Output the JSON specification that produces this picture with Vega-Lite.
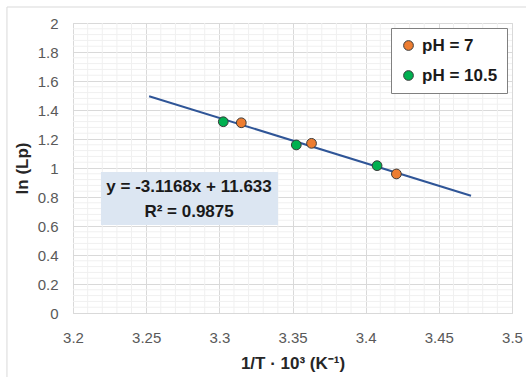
{
  "$schema": "https://vega.github.io/schema/vega-lite/v6.json",
  "width": 439,
  "height": 290,
  "autosize": "none",
  "padding": {"left": 73, "top": 23, "right": 14, "bottom": 64},
  "background": "white",
  "config": {
    "view": {"stroke": "#d9d9d9", "strokeWidth": 1},
    "font": "Liberation Sans Narrow, Liberation Sans, Arial",
    "axis": {"labelOverlap": false}
  },
  "datasets": {
    "points": [
      {"x": 3.315, "y": 1.312, "series": "pH = 7"},
      {"x": 3.363, "y": 1.170, "series": "pH = 7"},
      {"x": 3.421, "y": 0.959, "series": "pH = 7"},
      {"x": 3.3027, "y": 1.319, "series": "pH = 10.5"},
      {"x": 3.3526, "y": 1.159, "series": "pH = 10.5"},
      {"x": 3.4078, "y": 1.016, "series": "pH = 10.5"}
    ],
    "trend": [
      {"x": 3.252, "y": 1.4947},
      {"x": 3.472, "y": 0.8090}
    ],
    "minorX": [
      {"g": 3.21},{"g": 3.22},{"g": 3.23},{"g": 3.24},
      {"g": 3.26},{"g": 3.27},{"g": 3.28},{"g": 3.29},
      {"g": 3.31},{"g": 3.32},{"g": 3.33},{"g": 3.34},
      {"g": 3.36},{"g": 3.37},{"g": 3.38},{"g": 3.39},
      {"g": 3.41},{"g": 3.42},{"g": 3.43},{"g": 3.44},
      {"g": 3.46},{"g": 3.47},{"g": 3.48},{"g": 3.49}
    ],
    "minorY": [
      {"g": 0.04},{"g": 0.08},{"g": 0.12},{"g": 0.16},
      {"g": 0.24},{"g": 0.28},{"g": 0.32},{"g": 0.36},
      {"g": 0.44},{"g": 0.48},{"g": 0.52},{"g": 0.56},
      {"g": 0.64},{"g": 0.68},{"g": 0.72},{"g": 0.76},
      {"g": 0.84},{"g": 0.88},{"g": 0.92},{"g": 0.96},
      {"g": 1.04},{"g": 1.08},{"g": 1.12},{"g": 1.16},
      {"g": 1.24},{"g": 1.28},{"g": 1.32},{"g": 1.36},
      {"g": 1.44},{"g": 1.48},{"g": 1.52},{"g": 1.56},
      {"g": 1.64},{"g": 1.68},{"g": 1.72},{"g": 1.76},
      {"g": 1.84},{"g": 1.88},{"g": 1.92},{"g": 1.96}
    ]
  },
  "layer": [
    {
      "data": {"values": [{}]},
      "mark": {"type": "rect", "fill": null, "stroke": "#d9d9d9", "strokeWidth": 1, "clip": false},
      "encoding": {
        "x": {"datum": 3.15487, "type": "quantitative", "scale": {"domain": [3.2, 3.5], "nice": false, "zero": false}, "axis": {
          "values": [3.2, 3.25, 3.3, 3.35, 3.4, 3.45, 3.5],
          "tickCount": 40,
          "labelExpr": "toString(round(datum.value*100)/100)",
          "labelOverlap": false,
          "labelFlush": false,
          "grid": true,
          "gridColor": "#d9d9d9",
          "gridWidth": 1,
          "ticks": false,
          "domain": false,
          "labelPadding": 17,
          "labelFontSize": 15,
          "labelColor": "#595959",
          "title": "1/T · 10³ (K⁻¹)",
          "titleFontSize": 17,
          "titleFontWeight": "bold",
          "titleColor": "#262626",
          "titlePadding": 10
        }},
        "x2": {"datum": 3.6},
        "y": {"datum": 2.1103, "type": "quantitative", "scale": {"domain": [0, 2], "nice": false}, "axis": {
          "values": [0, 0.2, 0.4, 0.6, 0.8, 1, 1.2, 1.4, 1.6, 1.8, 2],
          "tickCount": 40,
          "labelExpr": "toString(round(datum.value*10)/10)",
          "labelOverlap": false,
          "labelFlush": false,
          "grid": true,
          "gridColor": "#d9d9d9",
          "gridWidth": 1,
          "ticks": false,
          "domain": false,
          "labelPadding": 15,
          "labelFontSize": 15,
          "labelColor": "#595959",
          "title": "ln (Lp)",
          "titleFontSize": 17,
          "titleFontWeight": "bold",
          "titleColor": "#262626",
          "titlePadding": 6
        }},
        "y2": {"datum": -1}
      }
    },
    {
      "data": {"name": "minorX"},
      "mark": {"type": "rule", "color": "#f0f0f0", "strokeWidth": 1},
      "encoding": {"x": {"field": "g", "type": "quantitative"}}
    },
    {
      "data": {"name": "minorY"},
      "mark": {"type": "rule", "color": "#f0f0f0", "strokeWidth": 1},
      "encoding": {"y": {"field": "g", "type": "quantitative"}}
    },
    {
      "data": {"values": [{}]},
      "mark": {"type": "rect", "fill": "#dce6f2"},
      "encoding": {
        "x": {"datum": 3.2191, "type": "quantitative"},
        "x2": {"datum": 3.3401},
        "y": {"datum": 0.972, "type": "quantitative"},
        "y2": {"datum": 0.607}
      }
    },
    {
      "data": {"name": "trend"},
      "mark": {"type": "line", "color": "#2f5597", "strokeWidth": 2},
      "encoding": {
        "x": {"field": "x", "type": "quantitative"},
        "y": {"field": "y", "type": "quantitative"}
      }
    },
    {
      "data": {"name": "points"},
      "mark": {"type": "point", "filled": true, "shape": "circle", "size": 95, "stroke": "#3a3a3a", "strokeWidth": 1, "opacity": 1},
      "encoding": {
        "x": {"field": "x", "type": "quantitative"},
        "y": {"field": "y", "type": "quantitative"},
        "color": {
          "field": "series", "type": "nominal",
          "scale": {"domain": ["pH = 7", "pH = 10.5"], "range": ["#ed7d31", "#00b050"]},
          "legend": {
            "title": null,
            "orient": "none",
            "legendX": 318,
            "legendY": 5,
            "padding": 9,
            "strokeColor": "#808080",
            "fillColor": "white",
            "cornerRadius": 0,
            "labelFontSize": 17,
            "labelFontWeight": "bold",
            "labelColor": "#1a1a1a",
            "labelOffset": 5,
            "symbolSize": 95,
            "symbolStrokeColor": "#3a3a3a",
            "symbolStrokeWidth": 1,
            "rowPadding": 12,
            "labelLimit": 200
          }
        }
      }
    },
    {
      "data": {"values": [{"t": "y = -3.1168x + 11.633"}]},
      "mark": {"type": "text", "fontSize": 17, "fontWeight": "bold", "color": "#1a1a1a", "align": "center", "baseline": "middle"},
      "encoding": {
        "x": {"datum": 3.2793, "type": "quantitative"},
        "y": {"datum": 0.871, "type": "quantitative"},
        "text": {"field": "t"}
      }
    },
    {
      "data": {"values": [{"t": "R² = 0.9875"}]},
      "mark": {"type": "text", "fontSize": 17, "fontWeight": "bold", "color": "#1a1a1a", "align": "center", "baseline": "middle"},
      "encoding": {
        "x": {"datum": 3.2793, "type": "quantitative"},
        "y": {"datum": 0.699, "type": "quantitative"},
        "text": {"field": "t"}
      }
    }
  ]
}
